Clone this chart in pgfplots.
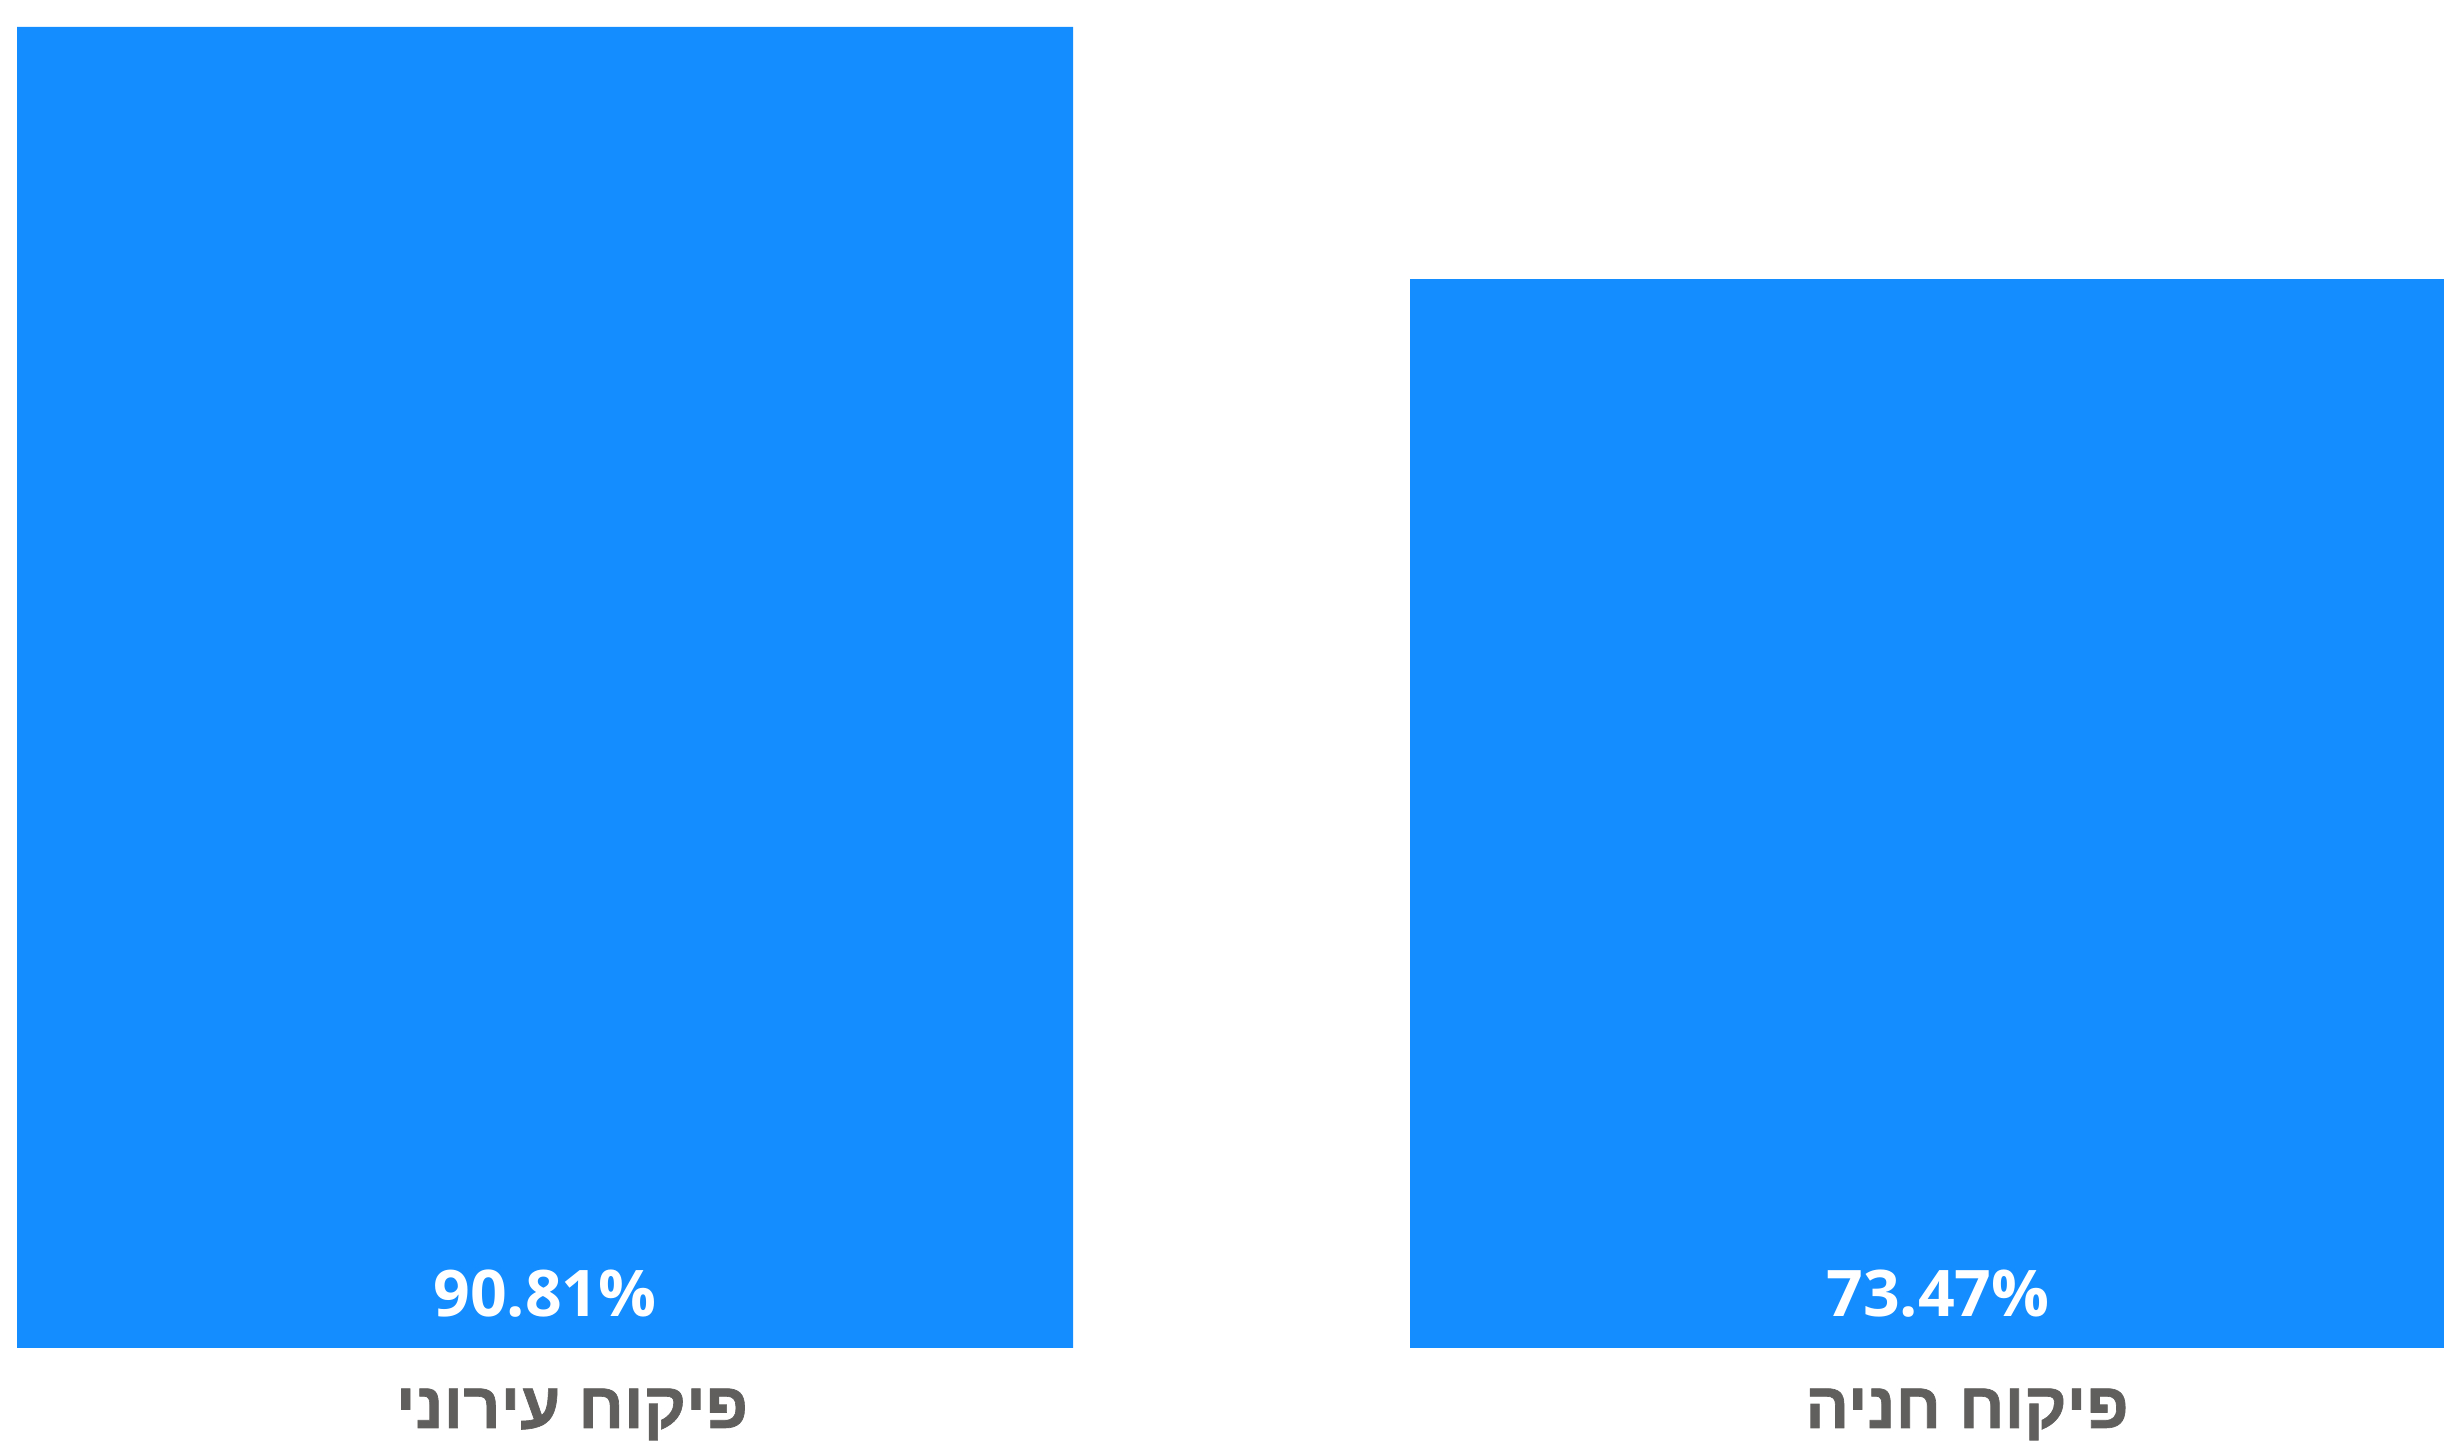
\documentclass[border=0pt]{standalone}
\usepackage{pgfplots}
\pgfplotsset{compat=1.18}
\usepackage{fontspec}
\setmainfont{Open Sans}
\newfontfamily\hebfont[Script=Hebrew, BoldFeatures={FakeBold=1}]{Liberation Sans}
\TeXXeTstate=1
\definecolor{barblue}{RGB}{19,141,255}
\definecolor{labgray}{RGB}{96,95,93}
\begin{document}
\begin{tikzpicture}
\begin{axis}[
  scale only axis,
  width=733.2pt, height=432.6pt,
  xmin=0, xmax=2444, ymin=-6.462, ymax=92.66,
  hide axis,
  ybar, bar width=1056,
  clip=true,
]
\addplot[fill=barblue, draw=none] coordinates {(545,90.81) (1938,73.47)};
\node[anchor=base, text=white, font=\fontsize{19.3}{22}\selectfont\bfseries, inner sep=0pt] at (axis cs:545,2.131) {90.81\%};
\node[anchor=base, text=white, font=\fontsize{19.3}{22}\selectfont\bfseries, inner sep=0pt] at (axis cs:1938,2.131) {73.47\%};
\node[anchor=base, text=labgray, font=\hebfont\fontsize{19.5}{22}\selectfont\bfseries, inner sep=0pt] at (axis cs:572,-5.5) {\beginR פיקוח עירוני\endR};
\node[anchor=base, text=labgray, font=\hebfont\fontsize{19.5}{22}\selectfont\bfseries, inner sep=0pt] at (axis cs:1967,-5.5) {\beginR פיקוח חניה\endR};
\coordinate (bl) at (rel axis cs:0,0);
\coordinate (tr) at (rel axis cs:1,1);
\end{axis}
\pgfresetboundingbox
\path[use as bounding box] (bl) rectangle (tr);
\end{tikzpicture}
\end{document}
